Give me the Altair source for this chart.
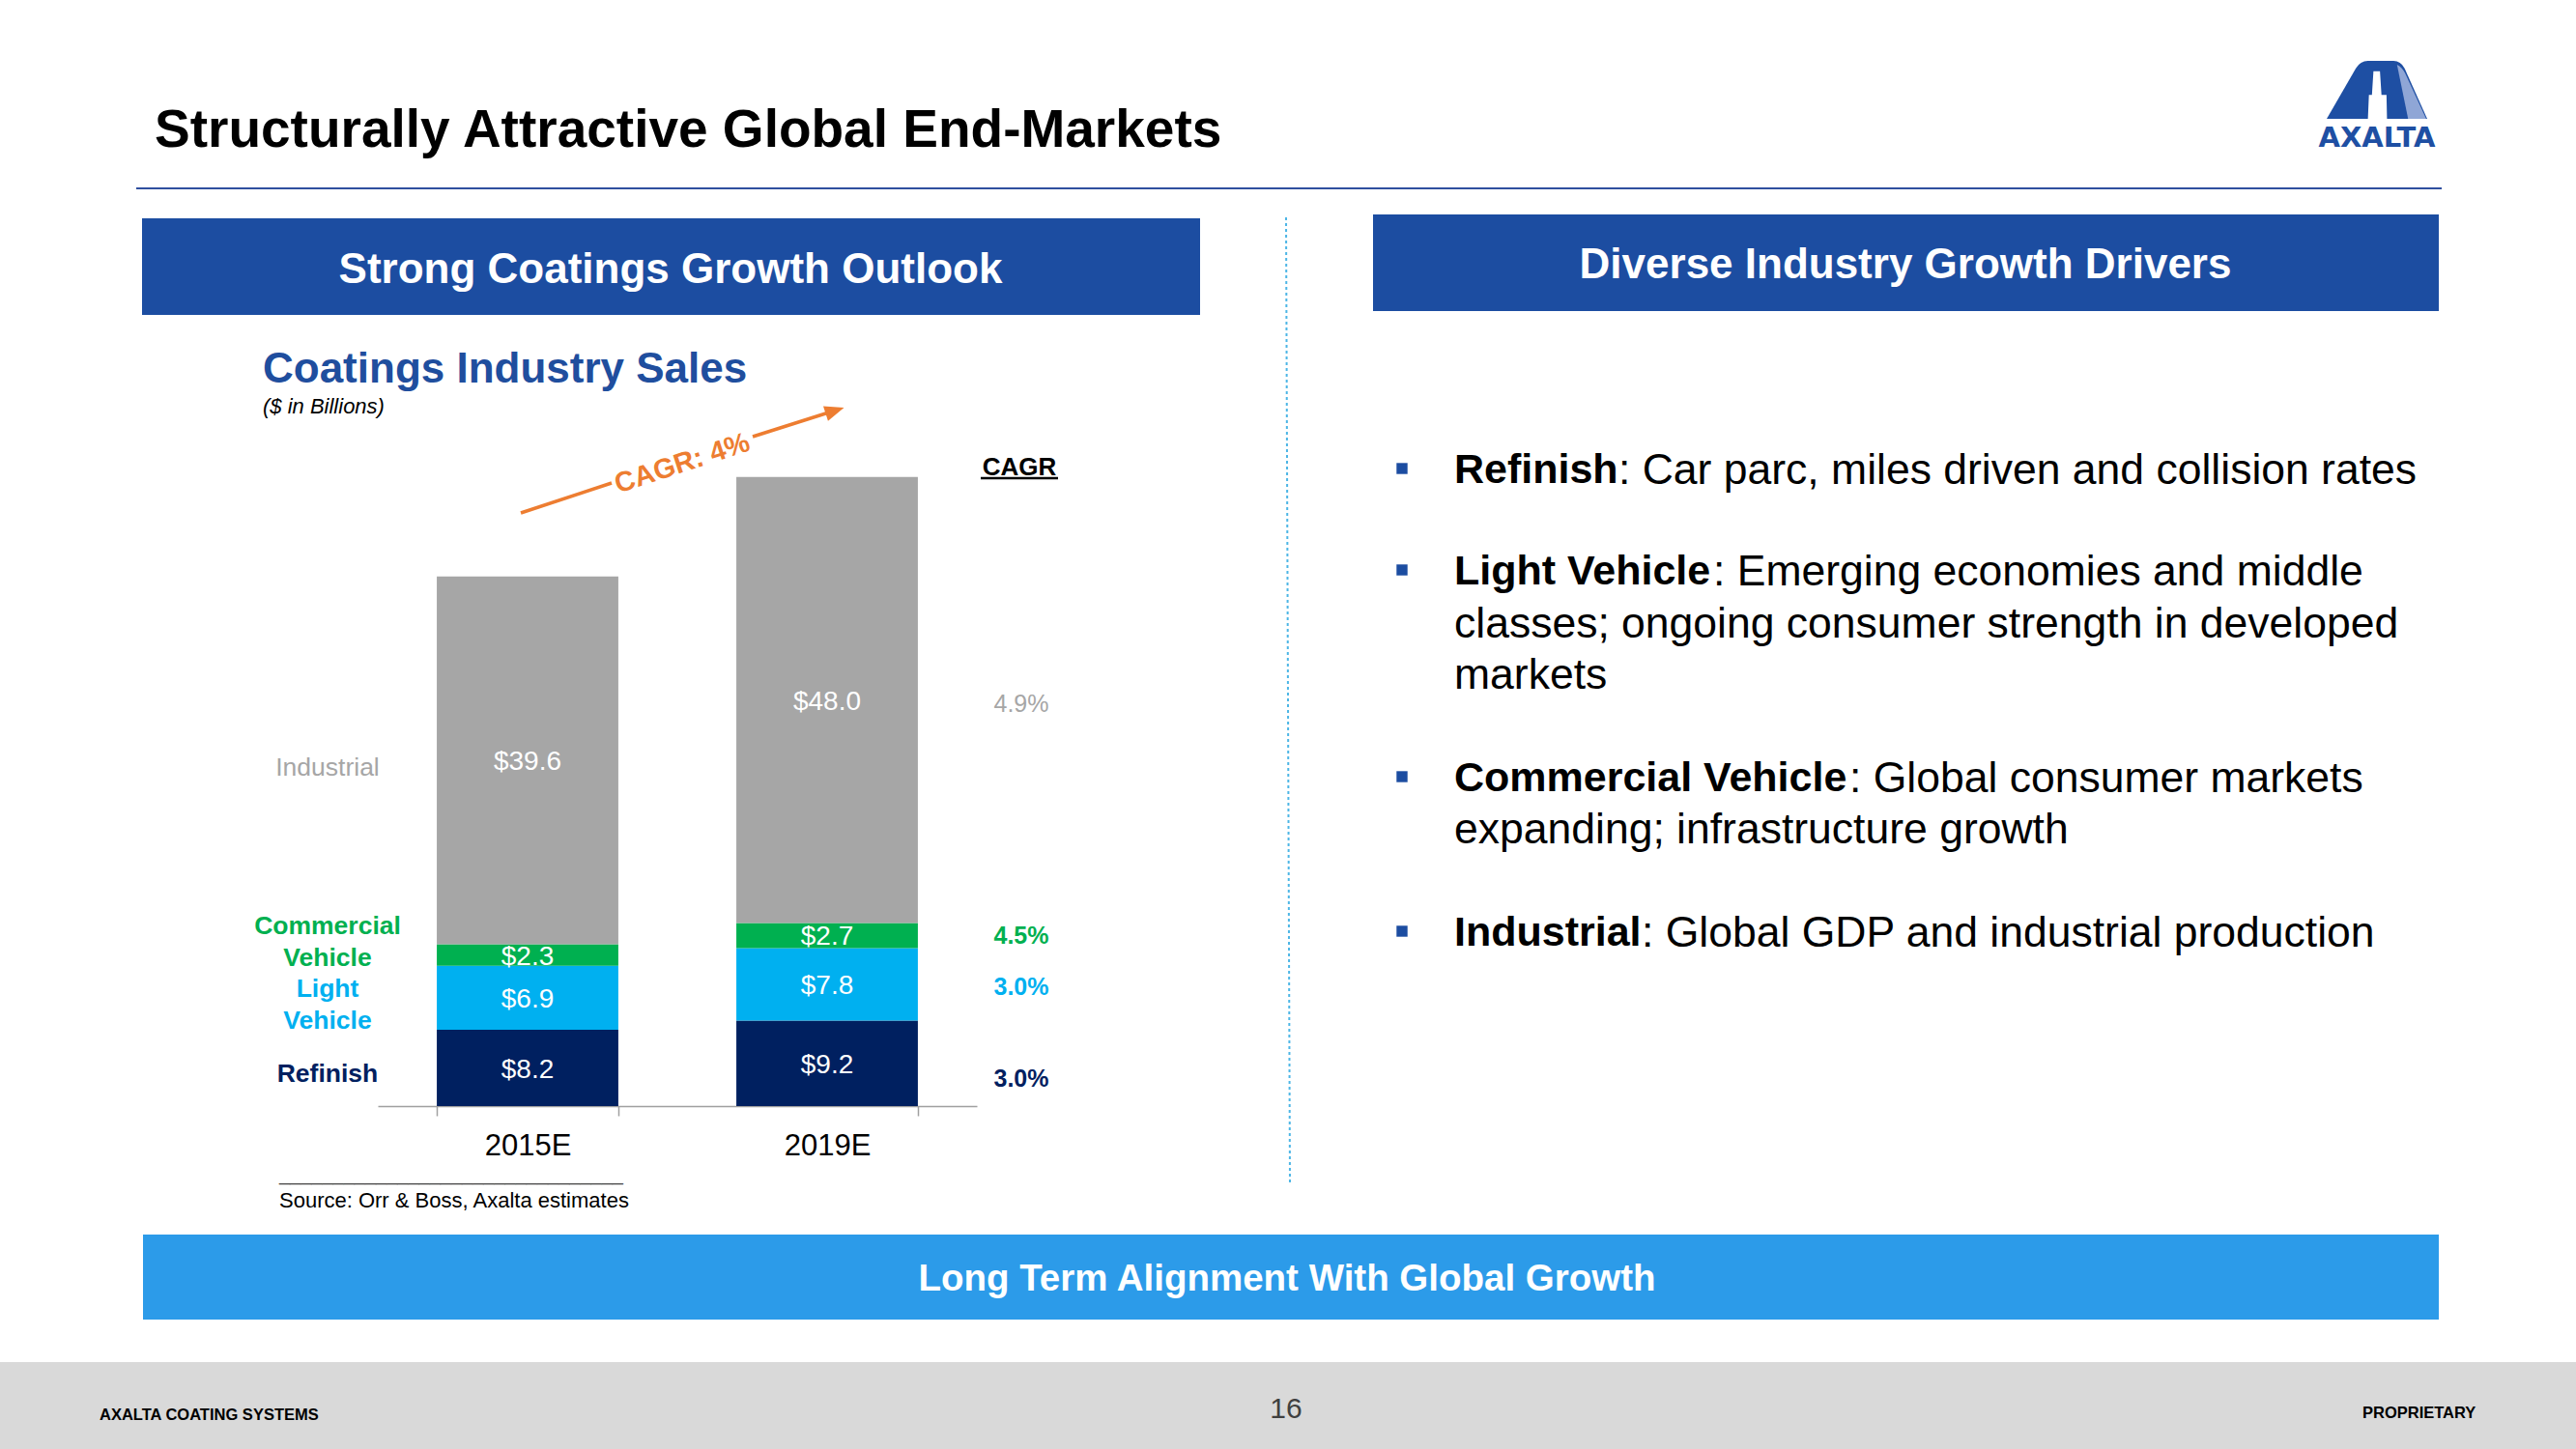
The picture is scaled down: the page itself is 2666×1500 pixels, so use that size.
import altair as alt
import pandas as pd

# ---------------- data ----------------
years = ["2015E", "2019E"]
segments = ["Refinish", "Light Vehicle", "Commercial Vehicle", "Industrial"]
sales_2015 = [8.2, 6.9, 2.3, 39.6]
sales_2019 = [9.2, 7.8, 2.7, 48.0]
cagr = ["3.0%", "3.0%", "4.5%", "4.9%"]
side_labels = ["Refinish", "Light\nVehicle", "Commercial\nVehicle", "Industrial"]

bullet_heads = ["Refinish", "Light Vehicle", "Commercial Vehicle", "Industrial"]
bullet_lines = [
    [": Car parc, miles driven and collision rates"],
    [": Emerging economies and middle", "classes; ongoing consumer strength in developed", "markets"],
    [": Global consumer markets", "expanding; infrastructure growth"],
    [": Global GDP and industrial production"],
]

# ---------------- styling ----------------
F = "Liberation Sans, Arial, sans-serif"
seg_colors = ["#002060", "#00B0F0", "#00B050", "#A6A6A6"]
HEAD_BLUE = "#1C4DA1"
ORANGE = "#ED7D31"

rows = []
for yr, vals in zip(years, [sales_2015, sales_2019]):
    for i, (s, v) in enumerate(zip(segments, vals)):
        rows.append({"year": yr, "segment": s, "ord": i, "value": v,
                     "cagr": cagr[i], "side": side_labels[i]})
df = pd.DataFrame(rows)

ONE = alt.Data(values=[{"a": 1}])


def T(s, x, y, size, color="#000000", weight="normal", align="left", style="normal", angle=0):
    # y is the vertical middle of the capitals
    kw = dict(text=s, fontSize=size, color=color, fontWeight=weight, align=align,
              baseline="middle", font=F, fontStyle=style)
    if angle:
        kw["angle"] = angle
    return alt.Chart(ONE).mark_text(**kw).encode(
        x=alt.value(x), y=alt.value(y + 0.058 * size))


def R(x1, y1, x2, y2, color):
    return alt.Chart(ONE).mark_rect(color=color).encode(
        x=alt.value(x1), x2=alt.value(x2), y=alt.value(y1), y2=alt.value(y2))


def L(x1, y1, x2, y2, color, w=2, dash=None):
    kw = dict(color=color, strokeWidth=w)
    if dash:
        kw["strokeDash"] = dash
    return alt.Chart(ONE).mark_rule(**kw).encode(
        x=alt.value(x1), x2=alt.value(x2), y=alt.value(y1), y2=alt.value(y2))


def P(path, x, y, size, color, angle=0):
    kw = dict(shape=path, filled=True, color=color, opacity=1, strokeWidth=0, size=size)
    if angle:
        kw["angle"] = angle
    return alt.Chart(ONE).mark_point(**kw).encode(x=alt.value(x), y=alt.value(y))


layers = []

# ---------------- slide frame ----------------
layers.append(T("Structurally Attractive Global End-Markets", 160, 132, 55, weight="bold"))
layers.append(L(141, 195, 2527, 195, "#2F4F9F", 2))
# logo
layers.append(P("M -1 0.577 L -0.42 -0.43 Q -0.33 -0.577 -0.18 -0.577 L 0.33 -0.577 Q 0.47 -0.577 0.55 -0.43 L 1 0.577 Z",
                2460, 93, 10816, "#1E4FA3"))
layers.append(P("M 0.4 -0.5 Q 0.5 -0.45 0.56 -0.33 L 0.98 0.577 L 0.62 0.577 Z",
                2460, 93, 10816, "#8FA6D6"))
layers.append(P("M -0.07 -0.37 L 0.06 -0.37 L 0.09 0.1 L 0.19 0.1 L 0.2 0.577 L -0.18 0.577 L -0.16 0.1 L -0.1 0.1 Z",
                2460, 93, 10816, "#FFFFFF"))
layers.append(alt.Chart(ONE).mark_text(text="AXALTA", fontSize=29, fontWeight="bold", color="#1E4FA3",
                                      font="DejaVu Sans", align="center", baseline="middle")
              .encode(x=alt.value(2460), y=alt.value(143)))

# headers
layers.append(R(147, 226, 1242, 326, HEAD_BLUE))
layers.append(T("Strong Coatings Growth Outlook", 694, 277, 44, color="#FFFFFF", weight="bold", align="center"))
layers.append(R(1421, 222, 2524, 322, HEAD_BLUE))
layers.append(T("Diverse Industry Growth Drivers", 1972, 272, 44, color="#FFFFFF", weight="bold", align="center"))

# separator
layers.append(L(1331, 225, 1335, 1225, "#4DB6E6", 2, [3, 3]))

# bottom banner and footer
layers.append(R(148, 1278, 2524, 1366, "#2C9BE9"))
layers.append(T("Long Term Alignment With Global Growth", 1332, 1322, 38.5, color="#FFFFFF", weight="bold", align="center"))
layers.append(R(0, 1410, 2666, 1500, "#D9D9D9"))
layers.append(T("AXALTA COATING SYSTEMS", 103, 1464, 16.5, weight="bold"))
layers.append(T("PROPRIETARY", 2445, 1462, 16.5, weight="bold"))
layers.append(T("16", 1331, 1457, 30, color="#404040", align="center"))

# ---------------- chart titles ----------------
layers.append(T("Coatings Industry Sales", 272, 380, 44, color="#1F4E9E", weight="bold"))
layers.append(T("($ in Billions)", 272, 420, 22, style="italic"))
layers.append(T("CAGR", 1055, 482, 26, weight="bold", align="center"))
layers.append(L(1015, 495, 1095, 495, "#000000", 2.5))

# CAGR arrow
layers.append(L(539, 531, 633, 500, ORANGE, 3.5))
layers.append(L(779, 452, 864, 425, ORANGE, 3.5))
layers.append(P("M 1 0 L -1 -0.8 L -1 0.8 Z", 864, 425, 400, ORANGE, angle=342))
layers.append(T("CAGR: 4%", 706, 478, 29, color=ORANGE, weight="bold", align="center", angle=342))

# source
layers.append(T("_" * 32, 289, 1215, 20, color="#404040"))
layers.append(T("Source: Orr & Boss, Axalta estimates", 289, 1242, 22))

# ---------------- bars ----------------
xs = alt.Scale(domain=years, range=[391, 1011], paddingInner=0.394, paddingOuter=0.197)
ys = alt.Scale(domain=[0, 70], range=[1145, 1145 - 9.62 * 70])
X = alt.X("year:N", scale=xs, title=None,
          axis=alt.Axis(offset=-355, tickBand="extent", tickSize=10, domainColor="#A0A0A0",
                        tickColor="#A0A0A0", domainWidth=1.5, tickWidth=1.5, labelFont=F,
                        labelFontSize=31, labelColor="#000000", labelPadding=16, labelAngle=0,
                        grid=False))
cscale = alt.Scale(domain=segments, range=seg_colors)

base = alt.Chart(df).transform_stack(
    stack="value", groupby=["year"], sort=[alt.SortField("ord", order="ascending")], as_=["y0", "y1"]
).transform_calculate(mid="(datum.y0 + datum.y1) / 2", lbl="'$' + format(datum.value, '.1f')")

bars = base.mark_bar().encode(
    x=X, y=alt.Y("y0:Q", scale=ys, axis=None), y2="y1:Q",
    color=alt.Color("segment:N", scale=cscale, legend=None))
layers.append(bars)

vals = base.mark_text(color="#FFFFFF", fontSize=28, font=F, baseline="middle", dy=2).encode(
    x=X, y=alt.Y("mid:Q", scale=ys, axis=None), text="lbl:N")
layers.append(vals)

side_dy = {"Refinish": 6, "Light Vehicle": -9, "Commercial Vehicle": -30, "Industrial": 8}
cagr_dy = {"Refinish": 16, "Light Vehicle": 3, "Commercial Vehicle": 1, "Industrial": 4}
for s in segments:
    w = "normal" if s == "Industrial" else "bold"
    layers.append(base.transform_filter(
        f"datum.year == '{years[0]}' && datum.segment == '{s}'"
    ).mark_text(fontSize=26.5, font=F, fontWeight=w, baseline="middle", align="center",
                lineBreak="\n", lineHeight=33, dy=side_dy[s]).encode(
        x=alt.value(339), y=alt.Y("mid:Q", scale=ys, axis=None), text="side:N",
        color=alt.Color("segment:N", scale=cscale, legend=None)))
    layers.append(base.transform_filter(
        f"datum.year == '{years[1]}' && datum.segment == '{s}'"
    ).mark_text(fontSize=25, font=F, fontWeight=w, baseline="middle", align="center",
                dy=cagr_dy[s]).encode(
        x=alt.value(1057), y=alt.Y("mid:Q", scale=ys, axis=None), text="cagr:N",
        color=alt.Color("segment:N", scale=cscale, legend=None)))

# ---------------- bullets ----------------
head_w = [170, 268, 409, 194]
bullet_y = [[485], [590, 644, 697], [804, 857], [964]]
for head, lines, ys_, hw in zip(bullet_heads, bullet_lines, bullet_y, head_w):
    layers.append(alt.Chart(ONE).mark_square(color="#1C4DA1", size=130, opacity=1).encode(
        x=alt.value(1451), y=alt.value(ys_[0])))
    layers.append(T(head, 1505, ys_[0], 43, weight="bold"))
    for k, (ln, yy) in enumerate(zip(lines, ys_)):
        layers.append(T(ln, 1505 + (hw if k == 0 else 0), yy, 44.5))

chart = alt.layer(*layers).properties(
    width=2666, height=1500, autosize=alt.AutoSizeParams(type="none"), padding=0,
    background="#FFFFFF"
).configure_view(stroke=None)

chart.save("out.html", embed_options={"renderer": "svg", "actions": False})
